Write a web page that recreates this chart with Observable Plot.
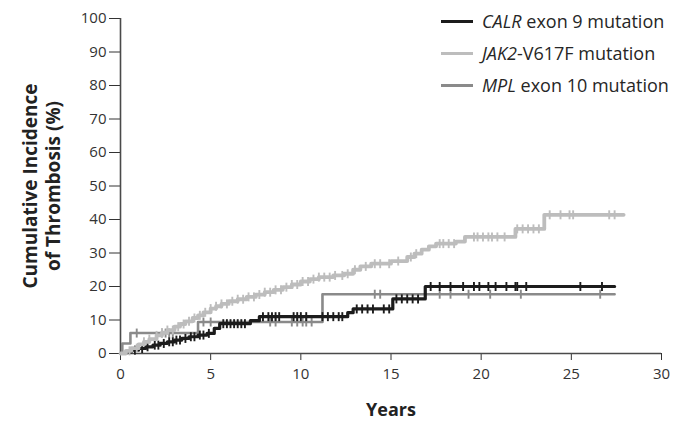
<!DOCTYPE html>
<html>
<head>
<meta charset="utf-8">
<script src="https://cdn.jsdelivr.net/npm/d3@7"></script>
<script src="https://cdn.jsdelivr.net/npm/@observablehq/plot@0.6"></script>
<style>
  html, body { margin: 0; padding: 0; background: #fff; }
  #wrap { position: relative; width: 676px; height: 422px; font-family: "Open Sans", sans-serif; }
  #legend { position: absolute; left: 441px; top: 0; }
  .row { position: absolute; left: 0; height: 24px; display: flex; align-items: center; white-space: nowrap;
         font-size: 18px; color: #262626; }
  .sw { width: 32px; height: 3px; margin-right: 9px; }
</style>
</head>
<body>
<div id="wrap"><div id="legend"></div></div>
<script>
// Kaplan-Meier style cumulative incidence steps: [years, percent]
const calrSteps = [
  [0, 0], [0.3, 0.5], [0.6, 1.0], [1.0, 1.5], [1.4, 2.0], [1.8, 2.5], [2.2, 3.0], [2.6, 3.5],
  [3.0, 4.0], [3.4, 4.5], [3.8, 5.0], [4.3, 5.5], [4.8, 6.0], [5.2, 7.5], [5.5, 8.9],
  [7.2, 9.8], [7.7, 11.0], [12.6, 12.2], [12.9, 13.3], [15.1, 16.3], [16.9, 20.0], [27.4, 20.0]
];
const jak2Steps = [
  [0, 0], [0.3, 0.8], [0.6, 1.6], [1.0, 2.7], [1.3, 3.5], [1.6, 4.3], [2.0, 5.4], [2.3, 6.2],
  [2.6, 7.0], [3.0, 8.0], [3.3, 8.8], [3.6, 9.6], [4.0, 10.6], [4.3, 11.4], [4.6, 12.3],
  [5.0, 13.4], [5.3, 14.1], [5.6, 14.8], [6.0, 15.6], [6.5, 16.2], [7.0, 16.9], [7.5, 17.6],
  [8.0, 18.3], [8.5, 19.0], [9.0, 19.8], [9.5, 20.6], [10.0, 21.5], [10.5, 22.2], [11.0, 22.8],
  [11.8, 23.3], [12.4, 23.8], [12.9, 25.0], [13.3, 26.0], [13.9, 26.8], [15.0, 27.6],
  [15.9, 28.8], [16.3, 29.8], [16.7, 31.0], [17.1, 32.0], [17.5, 32.8], [18.6, 33.4],
  [19.1, 34.8], [21.9, 37.2], [23.5, 41.4], [27.9, 41.4]
];
const mplSteps = [
  [0, 0], [0.1, 3.0], [0.55, 6.1], [4.3, 9.4], [11.2, 17.7], [27.4, 17.7]
];

// Censoring times (years)
const calrCensored = [
  0.8, 1.2, 1.5, 1.9, 2.1, 2.4, 2.7, 2.9, 3.1, 3.3, 3.6, 3.9, 4.1, 4.4, 4.6, 4.9,
  5.7, 5.9, 6.1, 6.3, 6.5, 6.7, 6.9, 7.9, 8.2, 8.4, 8.6, 8.8, 9.6, 9.8, 10.0, 10.3,
  11.2, 11.5, 11.8, 12.1, 12.3, 13.1, 13.4, 13.7, 14.0, 14.6, 14.9, 15.3, 15.6, 15.9,
  16.2, 16.5, 17.2, 17.7, 18.3, 19.0, 19.6, 19.9, 20.4, 20.8, 21.4, 21.9, 22.0, 22.5,
  25.5, 26.7
];
const jak2Censored = [
  0.5, 0.9, 1.3, 1.6, 2.0, 2.3, 2.6, 2.9, 3.2, 3.5, 3.8, 4.1, 4.4, 4.7, 5.0, 5.3, 5.6,
  5.9, 6.2, 6.5, 6.8, 7.1, 7.4, 7.7, 8.0, 8.3, 8.6, 8.9, 9.2, 9.5, 9.8, 10.1, 10.4,
  10.7, 11.0, 11.3, 11.6, 11.9, 12.3, 12.6, 13.0, 13.6, 14.1, 14.4, 14.9, 15.4, 16.1,
  16.4, 17.7, 17.9, 18.2, 18.5, 19.6, 19.8, 20.1, 20.4, 20.6, 20.9, 21.3, 22.0, 22.3,
  22.6, 22.9, 23.2, 23.8, 24.4, 24.9, 25.1, 27.1, 27.4
];
const mplCensored = [
  0.9, 2.3, 2.5, 2.7, 2.9, 4.6, 5.0, 8.3, 8.6, 9.5, 9.8, 10.1, 10.3, 10.6,
  14.1, 14.4, 17.7, 18.3, 19.3, 20.5, 22.2, 26.6
];

const xTicks = [0, 5, 10, 15, 20, 25, 30];
const yTicks = [0, 10, 20, 30, 40, 50, 60, 70, 80, 90, 100];

const seriesNames = ["CALR", "JAK2", "MPL"];
const legendLabels = [
  ["CALR", " exon 9 mutation"],
  ["JAK2", "-V617F mutation"],
  ["MPL", " exon 10 mutation"]
];
const colors = { CALR: "#1c1c1c", JAK2: "#bdbdbd", MPL: "#8a8a8a" };

// value of a step curve at time t (last step at or before t)
function levelAt(steps, t) {
  let v = 0;
  for (const [s, y] of steps) if (s <= t) v = y;
  return v;
}
const censorPoints = (steps, times) => times.map(t => [t, levelAt(steps, t)]);

// short vertical stroke used as the censoring mark
const censorMark = {
  draw(context, size) {
    const h = Math.sqrt(size / Math.PI);
    context.moveTo(0, -h);
    context.lineTo(0, h);
  }
};

const axisColor = "#4a4a4a";

const series = [
  { name: "MPL", steps: mplSteps, cens: mplCensored, width: 2.6 },
  { name: "CALR", steps: calrSteps, cens: calrCensored, width: 3.2 },
  { name: "JAK2", steps: jak2Steps, cens: jak2Censored, width: 3.8 }
];

const chart = Plot.plot({
  width: 676,
  height: 422,
  marginLeft: 120,
  marginRight: 15,
  marginTop: 18,
  marginBottom: 69,
  style: { fontFamily: "Open Sans, sans-serif", fontSize: "15px", color: "#333", background: "white" },
  x: { domain: [0, 30], ticks: xTicks, tickSize: 7, tickPadding: 8, label: null },
  y: { domain: [0, 100], ticks: yTicks, tickSize: 11, tickPadding: 3, label: null },
  marks: [
    Plot.ruleX([0], { stroke: axisColor, strokeWidth: 1.6 }),
    Plot.ruleY([0], { stroke: axisColor, strokeWidth: 1.6 }),
    ...series.flatMap(s => [
      Plot.line(s.steps, { curve: "step-after", stroke: colors[s.name], strokeWidth: s.width }),
      Plot.dot(censorPoints(s.steps, s.cens), {
        symbol: censorMark, r: 4.5, stroke: colors[s.name], strokeWidth: 1.9
      })
    ]),
    Plot.text(["Cumulative Incidence\nof Thrombosis (%)"], {
      frameAnchor: "left", dx: -79, rotate: -90, textAnchor: "middle", lineAnchor: "middle",
      lineHeight: 1.2, fontSize: 19, fontWeight: "bold", fill: "#222"
    }),
    Plot.text(["Years"], {
      frameAnchor: "bottom", dy: 57, textAnchor: "middle", lineAnchor: "middle",
      fontSize: 18, fontWeight: "bold", fill: "#222"
    })
  ]
});

const wrap = document.getElementById("wrap");
wrap.insertBefore(chart, wrap.firstChild);

// legend rows
const legend = document.getElementById("legend");
const rowCenters = [21, 53, 85];
seriesNames.forEach((name, i) => {
  const row = document.createElement("div");
  row.className = "row";
  row.style.top = (rowCenters[i] - 12) + "px";
  const sw = document.createElement("span");
  sw.className = "sw";
  sw.style.background = colors[name];
  const label = document.createElement("span");
  const it = document.createElement("i");
  it.textContent = legendLabels[i][0];
  label.appendChild(it);
  label.appendChild(document.createTextNode(legendLabels[i][1]));
  row.appendChild(sw);
  row.appendChild(label);
  legend.appendChild(row);
});
</script>
</body>
</html>
